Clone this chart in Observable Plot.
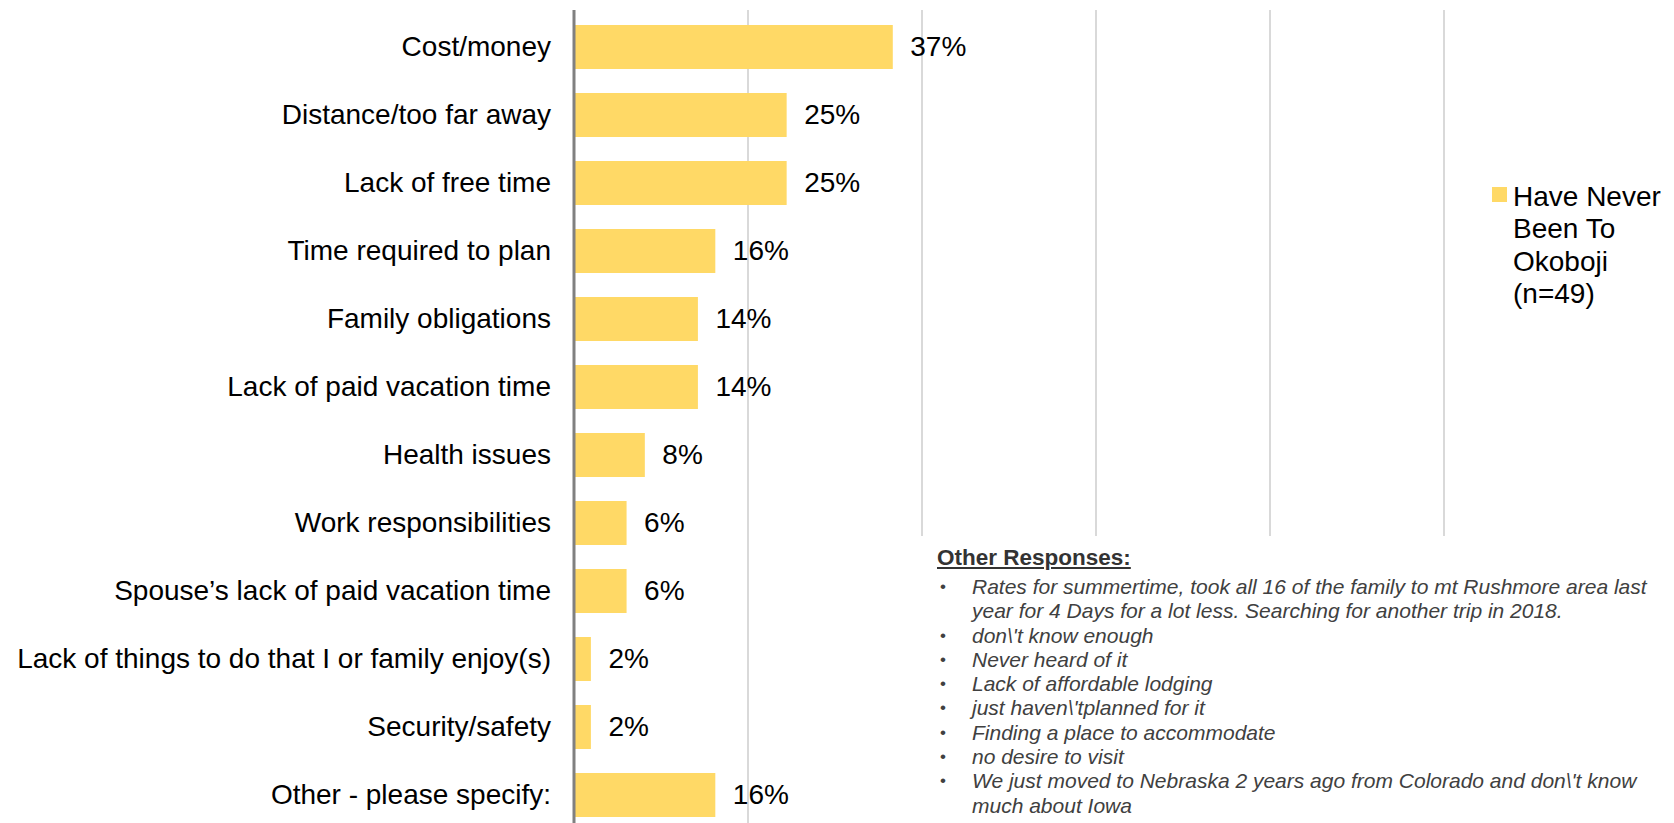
<!DOCTYPE html>
<html>
<head>
<meta charset="utf-8">
<script src="https://cdn.jsdelivr.net/npm/d3@7"></script>
<script src="https://cdn.jsdelivr.net/npm/@observablehq/plot@0.6"></script>
<style>
  html, body { margin: 0; padding: 0; background: #fff; }
  #wrap { position: relative; width: 1674px; height: 823px; overflow: hidden; font-family: "Liberation Sans", Arial, sans-serif; }
  #chart svg { display: block; }
  #legend { position: absolute; left: 1492px; top: 181px; font-size: 28px; line-height: 32.4px; color: #000; }
  #legend .sw { position: absolute; left: 0; top: 6px; width: 15px; height: 15px; background: #FFD966; }
  #legend .txt { margin-left: 21px; }
  #other { position: absolute; left: 912px; top: 536px; width: 762px; height: 287px; background: #fff; color: #404040; }
  #other h4 { margin: 0; position: absolute; left: 25px; top: 8px; font-size: 22.5px; font-weight: bold; text-decoration: underline; line-height: 28px; color: #333; }
  #other ul { list-style: none; margin: 0; padding: 0; position: absolute; left: 28px; top: 39px; }
  #other li { position: relative; padding-left: 32px; width: 685px; font-size: 21px; font-style: italic; line-height: 24.3px; }
  #other li::before { content: "•"; position: absolute; left: 0; top: 0; font-style: normal; font-size: 17px; }
</style>
</head>
<body>
<div id="wrap">
  <div id="chart"></div>
  <div id="legend"><div class="sw"></div><div class="txt" id="legendText"></div></div>
  <div id="other"><h4 id="otherTitle"></h4><ul id="otherList"></ul></div>
</div>
<script>
const categories = [
  "Cost/money",
  "Distance/too far away",
  "Lack of free time",
  "Time required to plan",
  "Family obligations",
  "Lack of paid vacation time",
  "Health issues",
  "Work responsibilities",
  "Spouse’s lack of paid vacation time",
  "Lack of things to do that I or family enjoy(s)",
  "Security/safety",
  "Other - please specify:"
];
const values = [36.7, 24.5, 24.5, 16.3, 14.3, 14.3, 8.2, 6.1, 6.1, 2.0, 2.0, 16.3];
const xTicks = [0, 20, 40, 60, 80, 100];
const seriesName = ["Have Never", "Been To", "Okoboji", "(n=49)"];
const otherTitle = "Other Responses:";
const otherResponses = [
  "Rates for summertime, took all 16 of the family to mt Rushmore area last year for 4 Days for a lot less. Searching for another trip in 2018.",
  "don\\'t know enough",
  "Never heard of it",
  "Lack of affordable lodging",
  "just haven\\'tplanned for it",
  "Finding a place to accommodate",
  "no desire to visit",
  "We just moved to Nebraska 2 years ago from Colorado and don\\'t know much about Iowa"
];

const data = categories.map((c, i) => ({category: c, value: values[i]}));

const chart = Plot.plot({
  width: 1674,
  height: 823,
  marginLeft: 573.5,
  marginRight: 230.5,
  marginTop: 10,
  marginBottom: 0,
  style: {fontFamily: '"Liberation Sans", Arial, sans-serif', fontSize: "28px", color: "#000", background: "#fff"},
  x: {domain: [0, 100], ticks: xTicks, axis: null},
  y: {domain: categories, paddingInner: 0.36, paddingOuter: 0.1315, align: 0.707, tickSize: 0, tickPadding: 23, label: null},
  marks: [
    Plot.ruleX(xTicks.slice(1), {stroke: "#d9d9d9", strokeWidth: 2}),
    Plot.barX(data, {x: "value", y: "category", fill: "#FFD966"}),
    Plot.ruleX([xTicks[0]], {stroke: "#808080", strokeWidth: 3}),
    Plot.text(data, {x: "value", y: "category", text: d => Math.round(d.value) + "%", textAnchor: "start", dx: 17, fill: "#000", fontSize: 28})
  ]
});
document.getElementById("chart").appendChild(chart);

document.getElementById("legendText").innerHTML = seriesName.join("<br>");
document.getElementById("otherTitle").textContent = otherTitle;
const ul = document.getElementById("otherList");
otherResponses.forEach(t => { const li = document.createElement("li"); li.textContent = t; ul.appendChild(li); });
</script>
</body>
</html>
